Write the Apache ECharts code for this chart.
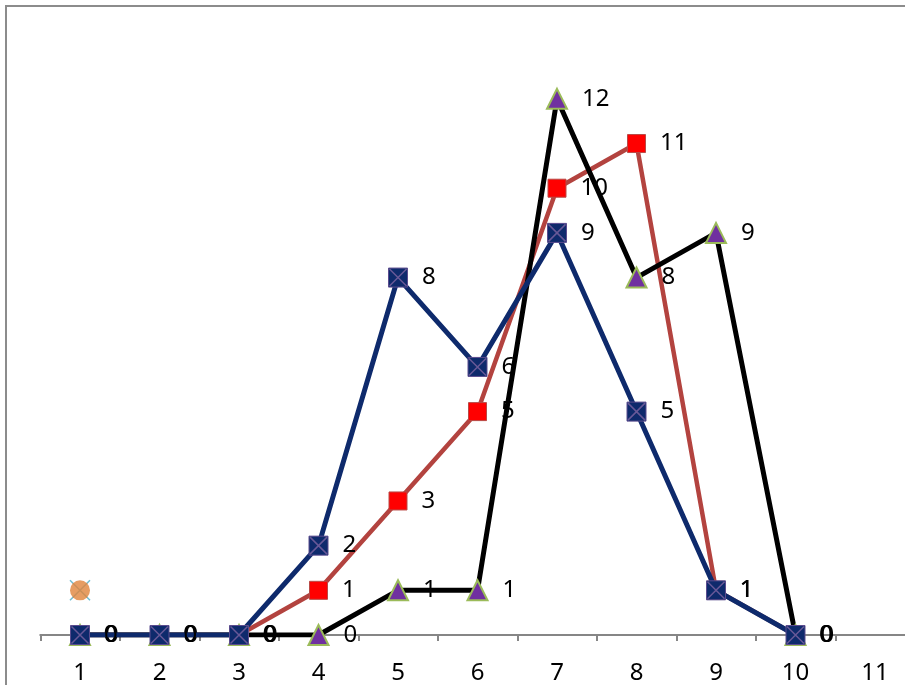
<!DOCTYPE html>
<html>
<head>
<meta charset="utf-8">
<script src="https://cdn.jsdelivr.net/npm/echarts@6/dist/echarts.min.js"></script>
<style>
html,body{margin:0;padding:0;background:#fff;overflow:hidden;width:905px;height:685px;}
#chart{width:1000px;height:685px;}
</style>
</head>
<body>
<div id="chart"></div>
<script>
var categories = ['1','2','3','4','5','6','7','8','9','10','11'];
var blueValues = [0,0,0,2,8,6,9,5,1,0,null];
var redValues = [0,0,0,1,3,5,10,11,1,0,null];
var blackValues = [0,0,0,0,1,1,12,8,9,0,null];
var orangeValues = [1,null,null,null,null,null,null,null,null,null,null];

var FONT = 'Noto Sans';
function lbl(){
  return {show:true, position:'right', distance:14, color:'#000', fontFamily:FONT, fontSize:24};
}

var chart = echarts.init(document.getElementById('chart'), null, {renderer:'canvas'});
chart.setOption({
  animation:false,
  backgroundColor:'#fff',
  graphic:[{type:'rect', z:-10, shape:{x:6,y:6,width:1400,height:1400}, style:{fill:'none', stroke:'#8c8c8c', lineWidth:2}}],
  grid:{left:40.25, top:9.5, width:874.5, height:626.5, containLabel:false},
  xAxis:{
    type:'category', data:categories, boundaryGap:true,
    axisLine:{show:true, lineStyle:{color:'#868686', width:2}},
    axisTick:{show:true, length:6, lineStyle:{color:'#868686', width:2}},
    axisLabel:{color:'#000', fontFamily:FONT, fontSize:24, margin:26},
    splitLine:{show:false}
  },
  yAxis:{
    type:'value', min:0, max:14, show:false, splitLine:{show:false}
  },
  series:[
    {
      name:'red', type:'line', z:2, data:redValues, symbol:'rect', symbolSize:18,
      lineStyle:{color:'#B3433F', width:4.5},
      itemStyle:{color:'#FF0000', borderColor:'#B84A46', borderWidth:1},
      label:lbl()
    },
    {
      name:'black', type:'line', z:3, data:blackValues, symbol:'triangle', symbolSize:20,
      lineStyle:{color:'#000', width:5},
      itemStyle:{color:'#7030A0', borderColor:'#9BBB59', borderWidth:2},
      label:lbl()
    },
    {
      name:'blue', type:'line', z:4, data:blueValues, symbol:'rect', symbolSize:19,
      lineStyle:{color:'#0E2A6C', width:5},
      itemStyle:{color:'#0E2A6C', borderColor:'#5B4C8E', borderWidth:1},
      label:lbl()
    },
    {
      name:'blueX', type:'scatter', z:5, data:blueValues, silent:true,
      symbol:'path://M0 0L10 10M10 0L0 10', symbolSize:17,
      itemStyle:{color:'none', borderColor:'#8064A2', borderWidth:1.5}
    },
    {
      name:'orangeX', type:'scatter', z:5, data:orangeValues, silent:true,
      symbol:'path://M0 0L10 10M10 0L0 10', symbolSize:20,
      itemStyle:{color:'none', borderColor:'#4BACC6', borderWidth:1.5}
    },
    {
      name:'orange', type:'scatter', z:6, data:orangeValues,
      symbol:'circle', symbolSize:20,
      itemStyle:{color:'#E0843B'}
    }
  ]
});
</script>
</body>
</html>
